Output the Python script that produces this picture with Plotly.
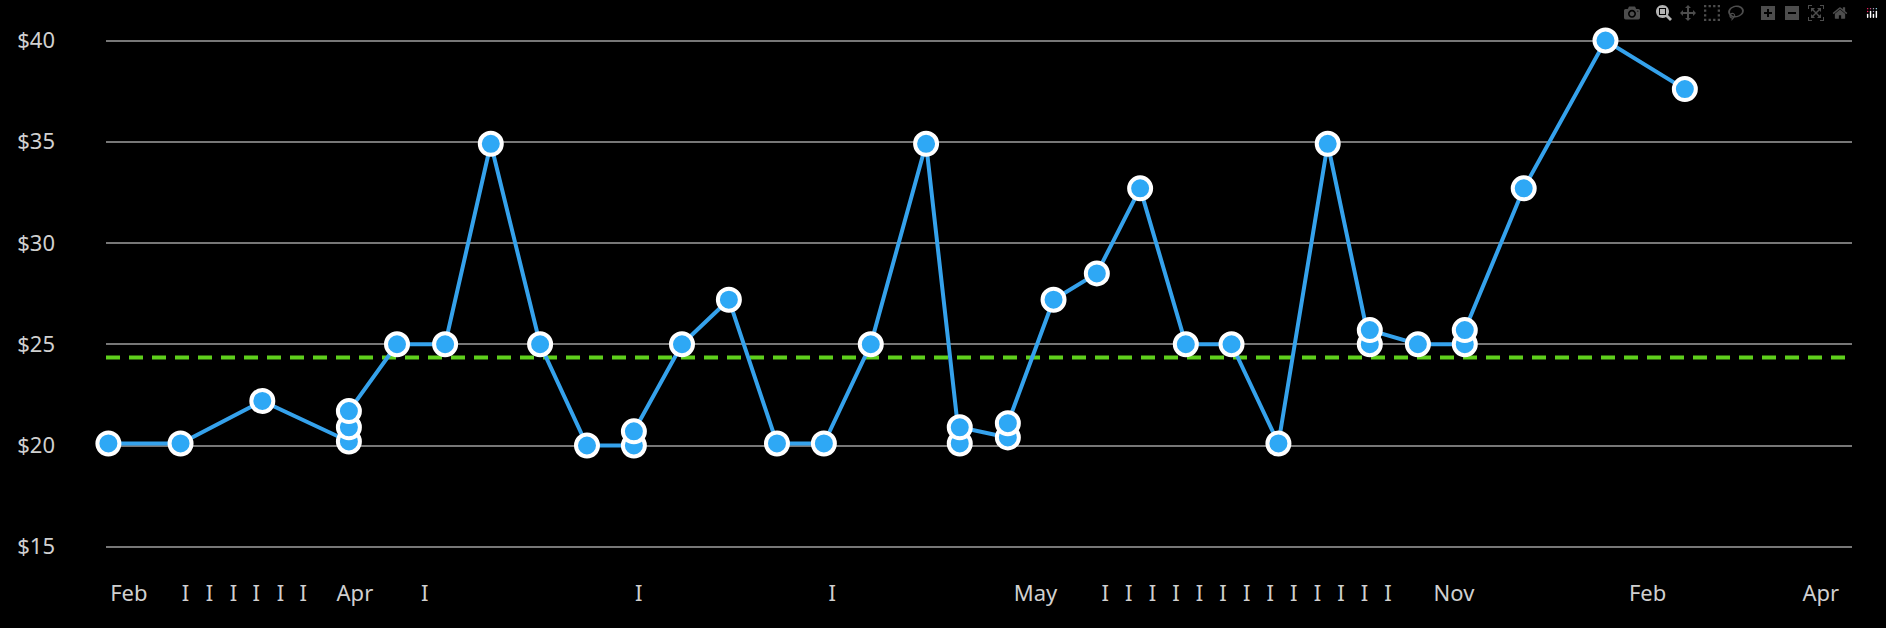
import plotly.graph_objects as go

# positions along the x axis (chart units) and prices
x_pos = [90,150,218,290,290,290,330,370,408,449,488,527,527,567,606,646,685,724,770,798,798,838,838,876,912,948,986,1024,1063,1104,1139,1139,1179,1218,1218,1267,1335,1401]
prices = [20.1,20.1,22.2,20.2,20.9,21.7,25,25,34.9,25,20,20,20.7,25,27.2,20.1,20.1,25,34.9,20.1,20.9,20.4,21.1,27.2,28.5,32.7,25,25,20.1,34.9,25,25.7,25,25,25.7,32.7,40,37.6]
average = 24.35

tick_pos = [107,154,174,194,213,233,252,295,353,531,692,861] + [919 + 19.6*i for i in range(13)] + [1209,1370,1514]
tick_text = ["Feb"] + ["I"]*6 + ["Apr"] + ["I"]*3 + ["May"] + ["I"]*13 + ["Nov","Feb","Apr"]
y_ticks = [15,20,25,30,35,40]
y_text = ["$15","$20","$25","$30","$35","$40"]

fig = go.Figure()
fig.add_trace(go.Scatter(x=[88,1540], y=[average,average], mode="lines",
                         line=dict(color="#5fd01c", width=4, dash="14px,9px"), hoverinfo="skip"))
fig.add_trace(go.Scatter(x=x_pos, y=prices, mode="lines+markers",
                         line=dict(color="#35a2ec", width=4),
                         marker=dict(size=22, color="#2ea8f5", line=dict(color="white", width=4)),
                         cliponaxis=False))
fig.update_layout(
    width=1886, height=628, paper_bgcolor="black", plot_bgcolor="black",
    showlegend=False, margin=dict(l=106, r=34, t=0, b=62),
    font=dict(family="Noto Sans", color="#d0d0d0", size=22),
    xaxis=dict(range=[88,1540], tickvals=tick_pos, ticktext=tick_text, showgrid=False,
               zeroline=False, showline=False, ticks="", ticklabelstandoff=12),
    yaxis=dict(range=[14.05,42], tickvals=y_ticks, ticktext=y_text, gridcolor="#777777",
               gridwidth=1.5, zeroline=False, showline=False, ticks="", ticklabelstandoff=50),
)
fig.write_html("out.html",
               post_script="document.body.style.margin='0';document.body.style.background='black';window.dispatchEvent(new Event('resize'));")
